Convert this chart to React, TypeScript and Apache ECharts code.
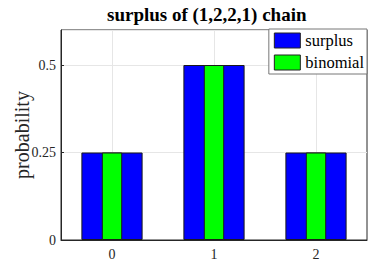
import React, { useEffect, useRef } from "react";
import * as echarts from "echarts";

const categories = ["0", "1", "2"];
const surplus = [0.25, 0.5, 0.25];
const binomial = [0.25, 0.5, 0.25];
const gridHelperCats = ["-0.5", "0", "0.5", "1", "1.5", "2", "2.5"];

export default function App() {
  const ref = useRef<HTMLDivElement>(null);
  useEffect(() => {
    const chart = echarts.init(ref.current!, null, { renderer: "svg" });
    const font = "Liberation Serif";
    chart.setOption({
      animation: false,
      textStyle: { fontFamily: font },
      title: {
        text: "surplus of (1,2,2,1) chain",
        left: 107,
        top: 5,
        padding: 0,
        textStyle: { fontFamily: font, fontSize: 19, fontWeight: "bold", color: "#000" },
      },
      legend: {
        data: ["surplus", "binomial"],
        orient: "vertical",
        right: 7,
        top: 29,
        icon: "rect",
        itemWidth: 26,
        itemHeight: 15,
        itemGap: 5,
        padding: [3, 3, 3, 5],
        backgroundColor: "#fff",
        borderColor: "#777",
        borderWidth: 1,
        textStyle: { fontFamily: font, fontSize: 16.5, color: "#000" },
        itemStyle: { borderColor: "#222", borderWidth: 1 },
      },
      grid: {
        left: 61,
        right: 7,
        top: 30,
        bottom: 30,
        containLabel: false,
        outerBoundsMode: "none",
        show: true,
        borderColor: "#262626",
        borderWidth: 1,
      },
      xAxis: [
        {
          type: "category",
          data: categories,
          axisLine: { show: true, lineStyle: { color: "#262626" } },
          axisTick: { show: true, alignWithLabel: true, inside: true, length: 3, lineStyle: { color: "#262626" } },
          axisLabel: { fontFamily: font, fontSize: 14, color: "#262626", margin: 7 },
          splitLine: { show: false },
        },
        {
          type: "category",
          data: categories,
          show: false,
          gridIndex: 0,
        },
        {
          type: "category",
          data: gridHelperCats,
          boundaryGap: false,
          position: "bottom",
          axisLine: { show: false },
          axisTick: { show: false },
          axisLabel: { show: false },
          splitLine: {
            show: true,
            interval: (i: number) => i % 2 === 1,
            lineStyle: { color: "#e6e6e6", width: 1 },
          },
        },
      ],
      yAxis: {
        type: "value",
        min: 0,
        max: 0.6,
        interval: 0.25,
        name: "probability",
        nameLocation: "middle",
        nameGap: 29,
        nameMoveOverlap: false,
        nameTextStyle: { fontFamily: font, fontSize: 20, color: "#262626" },
        axisLine: { show: true, lineStyle: { color: "#262626" } },
        axisTick: { show: true, inside: true, length: 3, lineStyle: { color: "#262626" } },
        axisLabel: {
          fontFamily: font,
          fontSize: 14,
          color: "#262626",
          margin: 5,
          showMaxLabel: false,
          formatter: (v: number) => (Math.abs(v - 0.6) < 1e-6 ? "" : String(v)),
        },
        splitLine: { show: true, lineStyle: { color: "#e6e6e6", width: 1 } },
      },
      series: [
        {
          name: "surplus",
          type: "bar",
          data: surplus,
          xAxisIndex: 0,
          barWidth: "60%",
          z: 3,
          itemStyle: { color: "#0000ff", borderColor: "#1a1a1a", borderWidth: 1 },
        },
        {
          name: "binomial",
          type: "bar",
          data: binomial,
          xAxisIndex: 1,
          barWidth: "20%",
          z: 4,
          itemStyle: { color: "#00ff00", borderColor: "#1a1a1a", borderWidth: 1 },
        },
      ],
    });
    return () => chart.dispose();
  }, []);
  return <div ref={ref} style={{ width: 374, height: 270, position: "absolute", left: 0, top: 0 }} />;
}
